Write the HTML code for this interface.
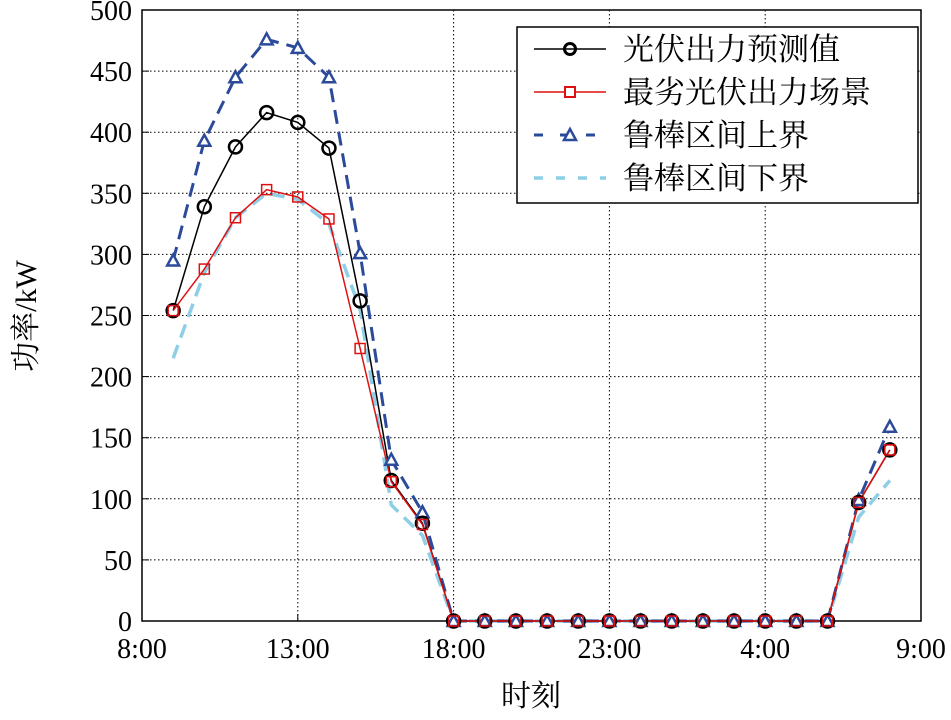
<!DOCTYPE html>
<html><head><meta charset="utf-8"><style>
body{margin:0;background:#fff}
svg text{font-family:"Liberation Serif","Noto Serif CJK SC",serif;fill:#000}
</style></head><body>
<svg id="c" width="951" height="715" xmlns="http://www.w3.org/2000/svg"></svg>
<script>
const hours=[9,10,11,12,13,14,15,16,17,18,19,20,21,22,23,24,25,26,27,28,29,30,31,32];
const forecast=[254,339,388,416,408,387,262,115,80,0,0,0,0,0,0,0,0,0,0,0,0,0,97,140];
const worst=[254,288,330,353,347,329,223,114,79,0,0,0,0,0,0,0,0,0,0,0,0,0,97,140];
const upper=[295,393,445,476,469,445,301,132,89,0,0,0,0,0,0,0,0,0,0,0,0,0,99,159];
const lower=[215,285,330,350,345,325,255,95,70,0,0,0,0,0,0,0,0,0,0,0,0,0,85,115];
const xTicks=[8,13,18,23,28,33];
const xTickLabels=["8:00","13:00","18:00","23:00","4:00","9:00"];
const yTicks=[0,50,100,150,200,250,300,350,400,450,500];
const L=142,R=921,T=10,B=621;
const x=h=>L+(h-8)/25*(R-L);
const y=v=>B-v/500*(B-T);
const svg=document.getElementById('c');
const NS="http://www.w3.org/2000/svg";
function mk(t,a,p){const e=document.createElementNS(NS,t);for(const k in a)e.setAttribute(k,a[k]);(p||svg).appendChild(e);return e;}
xTicks.forEach((t,i)=>{
 if(i>0&&i<xTicks.length-1){const g=mk('line',{x1:x(t),x2:x(t),y1:T,y2:B,stroke:'#000','stroke-width':1,'stroke-dasharray':'1.5,2.5'});
 
 }
 const tk=mk('line',{x1:x(t),x2:x(t),y1:B,y2:B-7,stroke:'#000'});
 
 
 const tx=mk('text',{x:x(t),y:B+37,'text-anchor':'middle','font-size':28});tx.textContent=xTickLabels[i];
 
 
});
yTicks.forEach(v=>{
 if(v>0&&v<500){const g=mk('line',{x1:L,x2:R,y1:y(v),y2:y(v),stroke:'#000','stroke-width':1,'stroke-dasharray':'1.5,2.5'});
 
 }
 const tk=mk('line',{x1:L,x2:L+7,y1:y(v),y2:y(v),stroke:'#000'});
 
 
 const tx=mk('text',{x:L-10,y:y(v)+10,'text-anchor':'end','font-size':28});tx.textContent=v;
 
 
});
const fr=mk('rect',{x:L,y:T,width:R-L,height:B-T,fill:'none',stroke:'#000','stroke-width':1.5});


function line(data,color,w,dash,name){
 const p=mk('polyline',{points:data.map((v,i)=>x(hours[i])+','+y(v)).join(' '),fill:'none',stroke:color,'stroke-width':w,'stroke-dasharray':dash||''});
 
 
}
function tri(cx,cy,c,p){return mk('polygon',{points:`${cx},${cy-6} ${cx-6},${cy+5} ${cx+6},${cy+5}`,fill:'#fff',stroke:c,'stroke-width':2.5},p);}
line(lower,'#8ecfe6',3.5,'14,8','lower-bound-line');
line(upper,'#2b4a9a',3,'14,8','upper-bound-line');
line(forecast,'#000',1.5,'','forecast-line');
line(worst,'#d11',1.5,'','worst-scenario-line');
upper.forEach((v,i)=>{const m=tri(x(hours[i]),y(v),'#2b4a9a');
 
 });
forecast.forEach((v,i)=>{const m=mk('circle',{cx:x(hours[i]),cy:y(v),r:6.5,fill:'none',stroke:'#000','stroke-width':2.5});
 
 });
worst.forEach((v,i)=>{const m=mk('rect',{x:x(hours[i])-5,y:y(v)-5,width:10,height:10,fill:'none',stroke:'#d11','stroke-width':1.5});
 
 });
const lg=mk('g',{});


mk('rect',{x:517,y:27,width:401,height:176,fill:'#fff',stroke:'#000','stroke-width':1.5},lg);
const items=[["光伏出力预测值",'#000','',1.5,'c'],["最劣光伏出力场景",'#d11','',1.5,'s'],["鲁棒区间上界",'#2b4a9a','9,17',3,'t'],["鲁棒区间下界",'#8ecfe6','9,13',3.5,'']];
items.forEach((it,i)=>{
 const cy=49+i*43;
 const g=mk('g',{},lg);
 
 
 mk('line',{x1:534,x2:606,y1:cy,y2:cy,stroke:it[1],'stroke-width':it[3],'stroke-dasharray':it[2]},g);
 if(it[4]=='c')mk('circle',{cx:570,cy:cy,r:5.5,fill:'none',stroke:'#000','stroke-width':3},g);
 if(it[4]=='s')mk('rect',{x:565,y:cy-5,width:10,height:10,fill:'#fff',stroke:'#d11','stroke-width':2},g);
 if(it[4]=='t')tri(570,cy,'#2b4a9a',g);
 const t=mk('text',{x:623,y:cy+11,'font-size':31},g);t.textContent=it[0];
});
const xt=mk('text',{x:531,y:706,'text-anchor':'middle','font-size':30});xt.textContent='时刻';


const yt=mk('text',{x:0,y:0,'text-anchor':'middle','font-size':30,transform:'translate(36,316) rotate(-90)'});yt.textContent='功率/kW';


</script>
</body></html>
